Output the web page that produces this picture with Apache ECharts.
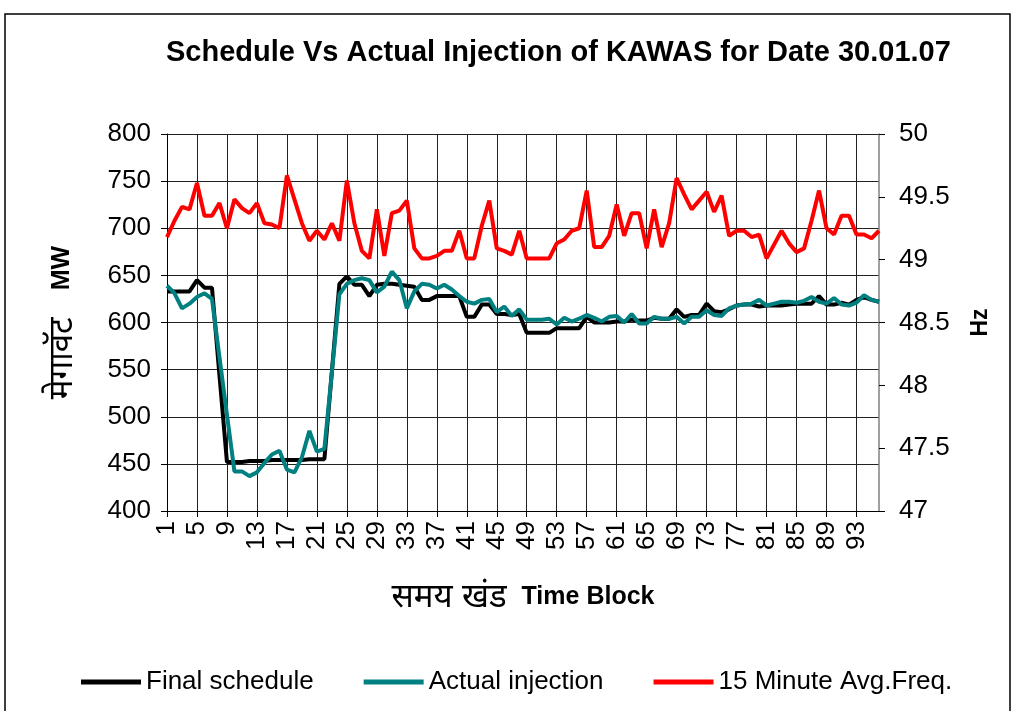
<!DOCTYPE html>
<html>
<head>
<meta charset="utf-8">
<script src="https://cdn.jsdelivr.net/npm/echarts@6/dist/echarts.min.js"></script>
<style>
  html, body { margin: 0; padding: 0; background: #fff; }
  #chart { width: 1018px; height: 711px; }
</style>
</head>
<body>
<div id="chart"></div>
<script>
// time blocks 1..96 (15 min each)
var blocks = [];
for (var i = 1; i <= 96; i++) blocks.push(String(i));

var finalSchedule = [
  633, 633, 633, 633, 645, 637, 637, 544, 452, 452, 452, 453,
  453, 453, 454, 454, 454, 454, 454, 455, 455, 455, 548, 641,
  649, 640, 640, 628, 640, 641, 641, 640, 639, 638, 624, 624,
  628, 628, 628, 628, 606, 606, 619, 619, 609, 609, 608, 609,
  589, 589, 589, 589, 594, 594, 594, 594, 606, 600, 600, 600,
  601, 601, 603, 602, 602, 605, 604, 604, 614, 606, 608, 608,
  620, 612, 611, 614, 618, 619, 619, 617, 618, 618, 618, 619,
  620, 620, 620, 628, 619, 619, 621, 619, 624, 627, 624, 622
];

var actualInjection = [
  639, 631, 615, 620, 627, 631, 625, 563, 502, 442, 442, 437,
  441, 451, 460, 464, 444, 441, 457, 485, 463, 466, 547, 630,
  641, 645, 647, 645, 632, 638, 654, 645, 615, 633, 641, 640,
  636, 640, 635, 628, 622, 620, 624, 625, 611, 617, 607, 614,
  603, 603, 603, 604, 598, 605, 601, 604, 608, 605, 601, 606,
  607, 600, 609, 599, 599, 606, 604, 604, 606, 599, 606, 606,
  613, 608, 607, 615, 618, 619, 620, 624, 618, 620, 622, 622,
  621, 623, 627, 622, 620, 626, 619, 618, 621, 629, 624, 622
];

var avgFreq = [
  49.18, 49.31, 49.42, 49.40, 49.61, 49.35, 49.35, 49.45, 49.25, 49.48, 49.41, 49.37,
  49.45, 49.29, 49.28, 49.25, 49.67, 49.48, 49.29, 49.15, 49.23, 49.16, 49.29, 49.15,
  49.63, 49.29, 49.07, 49.01, 49.40, 49.03, 49.37, 49.39, 49.47, 49.09, 49.01, 49.01,
  49.03, 49.07, 49.07, 49.23, 49.01, 49.01, 49.27, 49.47, 49.09, 49.07, 49.04, 49.23,
  49.01, 49.01, 49.01, 49.01, 49.13, 49.16, 49.23, 49.25, 49.55, 49.10, 49.10, 49.19,
  49.44, 49.19, 49.37, 49.37, 49.09, 49.40, 49.10, 49.29, 49.65, 49.52, 49.40, 49.47,
  49.54, 49.38, 49.51, 49.19, 49.23, 49.23, 49.18, 49.20, 49.01, 49.12, 49.23, 49.13,
  49.06, 49.09, 49.31, 49.55, 49.25, 49.20, 49.35, 49.35, 49.20, 49.20, 49.17, 49.23
];

var font = "'Liberation Sans', Arial, 'Noto Sans', sans-serif";

var chart = echarts.init(document.getElementById('chart'));

var option = {
  animation: false,
  backgroundColor: '#fff',
  textStyle: { fontFamily: font, color: '#000' },
  title: {
    text: 'Schedule Vs Actual Injection of KAWAS for Date 30.01.07',
    left: 161,
    top: 33,
    textStyle: { fontFamily: font, fontSize: 29, fontWeight: 'bold', color: '#000' }
  },
  legend: {
    left: 76,
    top: 664,
    icon: 'rect',
    itemWidth: 60,
    itemHeight: 5,
    itemGap: 50,
    textStyle: { fontFamily: font, fontSize: 26, color: '#000' },
    data: ['Final schedule', 'Actual injection', '15 Minute Avg.Freq.']
  },
  grid: { left: 167, right: 139, top: 134, bottom: 200 },
  graphic: [{
    type: 'rect',
    shape: { x: 5, y: 14, width: 1005, height: 720 },
    style: { fill: 'none', stroke: '#000', lineWidth: 1.5 },
    silent: true
  }],
  xAxis: {
    type: 'category',
    data: blocks,
    boundaryGap: false,
    name: '{hi|समय खंड}{sp|}{en|Time Block}',
    nameLocation: 'middle',
    nameGap: 70,
    nameTextStyle: {
      rich: {
        hi: { fontFamily: font, fontSize: 33, color: '#000' },
        sp: { width: 15 },
        en: { fontFamily: font, fontSize: 25, fontWeight: 'bold', color: '#000' }
      }
    },
    axisLine: { lineStyle: { color: '#000', width: 1 } },
    axisTick: { interval: 3, length: 6, lineStyle: { color: '#000' } },
    axisLabel: { interval: 3, rotate: 90, fontSize: 26, color: '#000', margin: 10, fontFamily: font },
    splitLine: { show: true, interval: 3, lineStyle: { color: '#222', width: 1 } }
  },
  yAxis: [{
    type: 'value',
    min: 400,
    max: 800,
    interval: 50,
    name: '{hi|मेगावॅट}{sp|}{en|MW}',
    nameLocation: 'middle',
    nameRotate: 90,
    nameGap: 88,
    nameTextStyle: {
      rich: {
        hi: { fontFamily: font, fontSize: 33, color: '#000' },
        sp: { width: 27 },
        en: { fontFamily: font, fontSize: 25, fontWeight: 'bold', color: '#000' }
      }
    },
    axisLine: { show: true, lineStyle: { color: '#000', width: 1 } },
    axisTick: { show: true, length: 6, lineStyle: { color: '#000' } },
    axisLabel: { fontSize: 26, color: '#000', margin: 16, fontFamily: font },
    splitLine: { show: true, lineStyle: { color: '#222', width: 1 } }
  }, {
    type: 'value',
    min: 47,
    max: 50,
    interval: 0.5,
    position: 'right',
    name: 'Hz',
    nameLocation: 'middle',
    nameRotate: 90,
    nameGap: 90,
    nameTextStyle: { fontFamily: font, fontSize: 23, fontWeight: 'bold', color: '#000' },
    axisLine: { show: true, lineStyle: { color: '#808080', width: 1.5 } },
    axisTick: { show: true, length: 6, lineStyle: { color: '#000' } },
    axisLabel: { fontSize: 26, color: '#000', margin: 20, fontFamily: font },
    splitLine: { show: false }
  }],
  series: [{
    name: 'Final schedule',
    type: 'line',
    data: finalSchedule,
    yAxisIndex: 0,
    showSymbol: false,
    color: '#000000',
    lineStyle: { width: 4, color: '#000000' }
  }, {
    name: 'Actual injection',
    type: 'line',
    data: actualInjection,
    yAxisIndex: 0,
    showSymbol: false,
    color: '#008080',
    lineStyle: { width: 4, color: '#008080' }
  }, {
    name: '15 Minute Avg.Freq.',
    type: 'line',
    data: avgFreq,
    yAxisIndex: 1,
    showSymbol: false,
    color: '#ff0000',
    lineStyle: { width: 4, color: '#ff0000' }
  }]
};

chart.setOption(option);
</script>
</body>
</html>
